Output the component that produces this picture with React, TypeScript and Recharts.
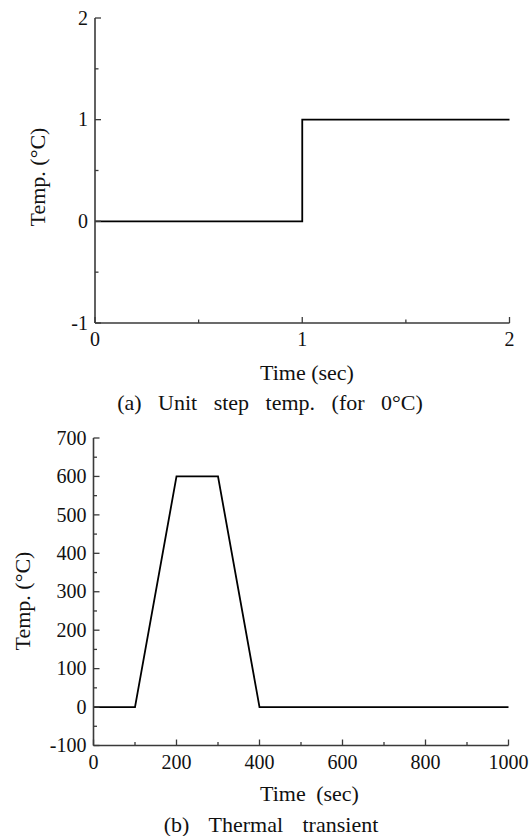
import React from "react";
import { LineChart, Line, XAxis, YAxis } from "recharts";

// ---- data ----
const stepTime = [0, 1, 1, 2];
const stepTemp = [0, 0, 1, 1];
const stepXTicks = [0, 0.5, 1, 1.5, 2];
const stepXMajor = [0, 1, 2];
const stepYTicks = [-1, -0.5, 0, 0.5, 1, 1.5, 2];
const stepYMajor = [-1, 0, 1, 2];

const transTime = [0, 100, 200, 300, 400, 1000];
const transTemp = [0, 0, 600, 600, 0, 0];
const transXTicks = [0, 100, 200, 300, 400, 500, 600, 700, 800, 900, 1000];
const transXMajor = [0, 200, 400, 600, 800, 1000];
const transYTicks = [-100, -50, 0, 50, 100, 150, 200, 250, 300, 350, 400, 450, 500, 550, 600, 650, 700];
const transYMajor = [-100, 0, 100, 200, 300, 400, 500, 600, 700];

const stepData = stepTime.map((t, i) => ({ t, v: stepTemp[i] }));
const transData = transTime.map((t, i) => ({ t, v: transTemp[i] }));

const FONT = '"Liberation Serif", "Times New Roman", serif';
const AXIS = "#3a3a3a";

const makeXTick = (major: number[]) => (props: any) => {
  const { x, y, payload } = props;
  const isMajor = major.includes(payload.value);
  return (
    <g>
      <line x1={x} x2={x} y1={y} y2={y - (isMajor ? 6 : 3.5)} stroke={AXIS} strokeWidth={1.3} />
      {isMajor && (
        <text x={x} y={y + 23} textAnchor="middle" fontSize={20} fontFamily={FONT} fill="#111">
          {payload.value}
        </text>
      )}
    </g>
  );
};

const makeYTick = (major: number[]) => (props: any) => {
  const { x, y, payload } = props;
  const isMajor = major.includes(payload.value);
  return (
    <g>
      <line x1={x} x2={x + (isMajor ? 6 : 3.5)} y1={y} y2={y} stroke={AXIS} strokeWidth={1.3} />
      {isMajor && (
        <text x={x - 7} y={y + 6.7} textAnchor="end" fontSize={20} fontFamily={FONT} fill="#111">
          {payload.value}
        </text>
      )}
    </g>
  );
};

const Label = ({ cx, cy, text, ws = 0, rotate = false }: any) => (
  <div
    style={{
      position: "absolute",
      left: cx,
      top: cy,
      transform: `translate(-50%, -50%)${rotate ? " rotate(-90deg)" : ""}`,
      fontFamily: FONT,
      fontSize: 22,
      lineHeight: "22px",
      whiteSpace: "pre",
      wordSpacing: ws,
      color: "#111",
    }}
  >
    {text}
  </div>
);

export default function App() {
  return (
    <div style={{ position: "absolute", left: 0, top: 0, width: 529, height: 836, background: "#fff" }}>
      <div style={{ position: "absolute", left: 0, top: 0 }}>
        <LineChart width={529} height={360} data={stepData} margin={{ top: 18, right: 19.5, left: 0, bottom: 7 }}>
          <XAxis
            dataKey="t"
            type="number"
            domain={[0, 2]}
            ticks={stepXTicks}
            interval={0}
            height={30}
            tickSize={0}
            tickMargin={0}
            tickLine={false}
            axisLine={{ stroke: AXIS, strokeWidth: 1.6 }}
            tick={makeXTick(stepXMajor)}
          />
          <XAxis xAxisId="top" orientation="top" type="number" domain={[0, 2]} height={0} tick={false} tickLine={false} axisLine={{ stroke: AXIS, strokeWidth: 1.6 }} />
          <YAxis
            type="number"
            domain={[-1, 2]}
            ticks={stepYTicks}
            interval={0}
            width={95}
            tickSize={0}
            tickMargin={0}
            tickLine={false}
            axisLine={{ stroke: AXIS, strokeWidth: 1.6 }}
            tick={makeYTick(stepYMajor)}
          />
          <YAxis yAxisId="right" orientation="right" type="number" domain={[-1, 2]} width={0} tick={false} tickLine={false} axisLine={{ stroke: AXIS, strokeWidth: 1.6 }} />
          <Line type="linear" dataKey="v" stroke="#000" strokeWidth={1.8} dot={false} isAnimationActive={false} />
        </LineChart>
      </div>

      <div style={{ position: "absolute", left: 0, top: 420 }}>
        <LineChart width={529} height={360} data={transData} margin={{ top: 18, right: 20.5, left: 0, bottom: 4.5 }}>
          <XAxis
            dataKey="t"
            type="number"
            domain={[0, 1000]}
            ticks={transXTicks}
            interval={0}
            height={30}
            tickSize={0}
            tickMargin={0}
            tickLine={false}
            axisLine={{ stroke: AXIS, strokeWidth: 1.6 }}
            tick={makeXTick(transXMajor)}
          />
          <XAxis xAxisId="top" orientation="top" type="number" domain={[0, 1000]} height={0} tick={false} tickLine={false} axisLine={{ stroke: AXIS, strokeWidth: 1.6 }} />
          <YAxis
            type="number"
            domain={[-100, 700]}
            ticks={transYTicks}
            interval={0}
            width={93.5}
            tickSize={0}
            tickMargin={0}
            tickLine={false}
            axisLine={{ stroke: AXIS, strokeWidth: 1.6 }}
            tick={makeYTick(transYMajor)}
          />
          <YAxis yAxisId="right" orientation="right" type="number" domain={[-100, 700]} width={0} tick={false} tickLine={false} axisLine={{ stroke: AXIS, strokeWidth: 1.6 }} />
          <Line type="linear" dataKey="v" stroke="#000" strokeWidth={1.8} dot={false} isAnimationActive={false} />
        </LineChart>
      </div>

      <Label cx={37.5} cy={177} text="Temp. (°C)" rotate />
      <Label cx={307} cy={372.5} text="Time (sec)" />
      <Label cx={270} cy={403} text="(a) Unit step temp. (for 0°C)" ws={11} />

      <Label cx={22.5} cy={601} text="Temp. (°C)" rotate />
      <Label cx={309.5} cy={794} text="Time (sec)" ws={5} />
      <Label cx={271} cy={825} text="(b) Thermal transient" ws={14} />
    </div>
  );
}
